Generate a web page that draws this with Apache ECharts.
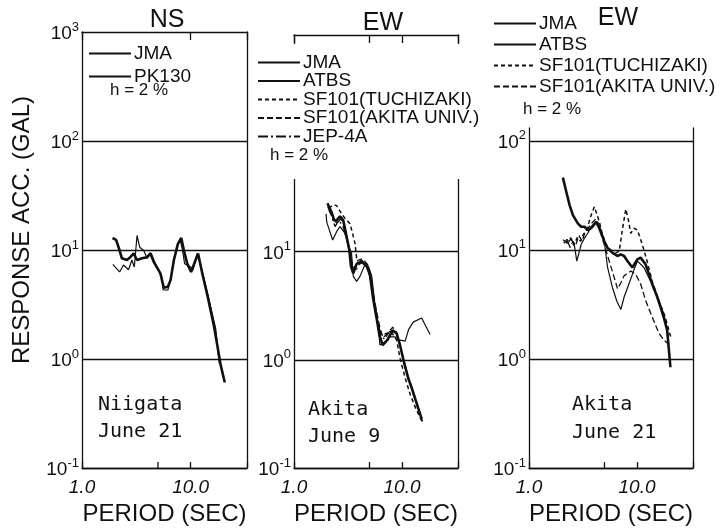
<!DOCTYPE html>
<html>
<head>
<meta charset="utf-8">
<script src="https://cdn.jsdelivr.net/npm/echarts@6/dist/echarts.min.js"></script>
<style>
  html, body { margin: 0; padding: 0; background: #fff; }
  #chart { width: 726px; height: 531px; }
</style>
</head>
<body>
<div id="chart"></div>
<script>
// [period (sec), response acc. (gal)], h = 2 %
const niigataJMA = [[1.91, 12.9], [2.06, 12.4], [2.22, 9.9], [2.33, 8.4], [2.59, 8.1], [2.78, 8.6], [2.99, 9.3], [3.21, 8.1], [3.57, 8.4], [3.97, 8.6], [4.26, 9.3], [4.57, 7.8], [5.27, 6.1], [5.66, 4.5], [6.17, 4.6], [6.53, 5.3], [7.01, 8.1], [7.63, 11.4], [8.2, 12.9], [8.67, 9.9], [9.3, 7.5], [10.1, 6.3], [11.1, 8.1], [11.7, 9.3], [12.8, 6.1], [14.3, 3.8], [16.4, 2.0], [18.9, 0.88], [20.6, 0.61]]
const niigataPK130 = [[1.92, 7.4], [2.22, 6.3], [2.41, 7.3], [2.68, 6.6], [2.88, 8.1], [3.03, 7.0], [3.21, 13.6], [3.4, 10.6], [3.7, 9.9], [3.97, 8.4], [4.32, 9.4], [4.74, 7.5], [5.47, 5.5], [5.58, 4.3], [6.17, 4.3], [6.53, 5.3], [7.26, 9.6], [7.96, 12.6], [8.37, 10.3], [8.8, 7.5], [10.0, 7.0], [10.5, 6.6], [11.5, 9.3], [12.8, 6.3], [14.4, 3.9], [17.0, 1.9], [18.3, 0.91]]

const akita9JMA = [[2.04, 27.9], [2.23, 23.1], [2.35, 19.4], [2.48, 19.4], [2.67, 21.1], [2.86, 19.4], [3.07, 13.7], [3.25, 10.4], [3.37, 7.3], [3.54, 6.3], [3.8, 7.7], [4.23, 8.1], [4.71, 7.3], [5.05, 6.1], [5.42, 3.6], [5.83, 2.4], [6.17, 1.7], [6.62, 1.37], [7.31, 1.52], [8.2, 1.87], [8.93, 1.75], [9.58, 1.37], [10.3, 1.0], [11.4, 0.68], [12.3, 0.55], [15.2, 0.285]]
const akita9ATBS = [[1.98, 22.3], [2.01, 18.7], [2.28, 12.8], [2.52, 15.7], [2.67, 17], [2.97, 14.7], [3.18, 11.5], [3.41, 9.6], [3.54, 5.9], [3.8, 5.3], [4.08, 5.9], [4.54, 7.6], [4.9, 7.3], [5.25, 5.9], [5.62, 3.2], [6.04, 1.94], [6.25, 1.37], [6.96, 1.47], [7.74, 1.63], [8.6, 1.63], [9.58, 1.52], [10.7, 1.49], [11.5, 1.9], [12.7, 2.23], [15.2, 2.43], [18.2, 1.71]]
const akita9Tuchizaki = [[2.1, 25], [2.3, 27], [2.48, 26.6], [2.76, 22.3], [3.0, 20], [3.3, 18.1], [3.5, 14.5], [3.67, 11.9], [3.8, 8.7], [4.1, 8.4], [4.5, 8.0], [4.9, 6.8], [5.2, 5.0], [5.6, 3.2], [6.0, 2.1], [6.5, 1.7], [7.2, 1.75], [8.0, 1.8], [8.93, 1.52], [9.58, 1.04], [10.7, 0.68], [11.9, 0.48], [13.5, 0.35], [15.7, 0.256]]
const akita9AkitaUniv = [[2.1, 24], [2.3, 21], [2.5, 18], [2.7, 20], [2.9, 18], [3.1, 13], [3.3, 10], [3.45, 7.8], [3.6, 7.0], [3.9, 8.3], [4.3, 8.6], [4.8, 7.6], [5.1, 6.0], [5.5, 3.8], [5.9, 2.6], [6.3, 1.9], [6.7, 1.6], [7.3, 1.75], [8.2, 2.0], [8.9, 1.8], [9.5, 1.4], [10.2, 1.05], [11.3, 0.72], [12.3, 0.56], [13.5, 0.42], [15.5, 0.27]]
const akita9JEP4A = [[2.05, 26], [2.2, 22], [2.4, 17], [2.6, 19.5], [2.85, 17], [3.1, 12.5], [3.3, 9.5], [3.5, 7], [3.7, 6.6], [4.0, 7.6], [4.4, 8.0], [4.8, 7.0], [5.2, 5.2], [5.6, 3.3], [6.0, 2.2], [6.4, 1.65], [6.9, 1.55], [7.6, 1.8], [8.4, 1.9], [9.2, 1.6], [9.8, 1.25], [10.6, 0.92], [11.6, 0.64], [12.8, 0.48], [14.5, 0.33], [15.3, 0.29]]

const akita21JMA = [[2.06, 46], [2.22, 33.8], [2.38, 25.6], [2.55, 20.8], [2.83, 17.5], [3.04, 16.3], [3.26, 16.3], [3.5, 15.2], [3.76, 15.8], [4.0, 17], [4.18, 18.1], [4.48, 15.8], [4.98, 12.0], [5.34, 10.4], [5.93, 9.4], [6.59, 8.8], [7.08, 9.1], [7.6, 8.8], [8.15, 7.9], [9.06, 6.9], [10.1, 8.2], [10.8, 8.5], [12.0, 7.4], [12.9, 6.0], [13.8, 4.9], [15.4, 3.7], [16.5, 3.0], [17.7, 2.4], [19.0, 1.85], [20.4, 0.84]]
const akita21ATBS = [[2.06, 12.4], [2.29, 11.5], [2.46, 12.8], [2.64, 10.8], [2.77, 7.9], [3.04, 11.2], [3.26, 12.8], [3.5, 14.2], [3.76, 16.3], [4.03, 17.5], [4.32, 18.1], [4.64, 15.2], [4.98, 12.0], [5.34, 6.9], [5.93, 4.5], [6.5, 3.4], [7.08, 2.84], [7.6, 3.7], [8.43, 4.9], [9.4, 6.6], [10.1, 7.9], [11.6, 6.9], [13.3, 5.2], [15.4, 3.7], [17.7, 2.6], [19.5, 1.6]]
const akita21Tuchizaki = [[2.2, 11.5], [2.4, 13], [2.6, 11], [2.8, 13], [3.0, 12], [3.2, 14], [3.38, 14.7], [3.6, 18], [3.76, 20.8], [4.03, 24.8], [4.2, 22], [4.48, 18.1], [4.8, 13.7], [5.16, 11.2], [5.6, 10.2], [5.93, 9.7], [6.35, 9.4], [6.84, 9.7], [7.3, 15], [7.87, 23.6], [8.3, 19], [8.75, 14.2], [9.4, 15.8], [10.1, 15.2], [10.4, 14.7], [11.2, 11.2], [12.4, 7.9], [13.8, 5.2], [15.9, 3.45], [18.3, 2.4], [20.5, 1.6]]
const akita21AkitaUniv = [[2.1, 11.5], [2.25, 12.5], [2.4, 10.5], [2.55, 12], [2.7, 11], [2.9, 13.5], [3.1, 12], [3.3, 14.5], [3.55, 16], [3.8, 17.5], [4.1, 19], [4.35, 17], [4.6, 14.5], [4.98, 11.1], [5.53, 7.9], [6.15, 5.6], [6.6, 4.4], [7.1, 5.0], [7.6, 5.8], [8.75, 6.4], [9.7, 6.0], [10.8, 4.9], [12, 3.45], [13.8, 2.44], [15.9, 1.73], [17.7, 1.5], [19.8, 1.35]]

const periodTicks = [5]
const periodMin = 1
const periodMax = 33
const accMin = 0.1

const FONT = '"Liberation Sans", Arial, sans-serif'
const MONO = '"DejaVu Sans Mono", "Liberation Mono", monospace'
const INK = '#111'

const panels = [
  { grid: { left: 82, top: 32, width: 165, height: 444 }, accMax: 1000, hideExp: [], top: true, topFive: false },
  { grid: { left: 294, top: 35, width: 164, height: 440 }, accMax: 1000, hideExp: [2, 3], top: true, topFive: true },
  { grid: { left: 529, top: 128, width: 164, height: 344 }, accMax: 131, hideExp: [], top: false, topFive: false },
]

const lineStyles = {
  'JMA': { width: 2.6, type: 'solid' },
  'PK130': { width: 1.2, type: 'solid' },
  'ATBS': { width: 1.2, type: 'solid' },
  'SF101(TUCHIZAKI)': { width: 1.5, type: [4, 3] },
  'SF101(AKITA UNIV.)': { width: 1.3, type: [6, 3] },
  'JEP-4A': { width: 1.3, type: [10, 3, 2, 3] },
}

const curves = [
  [0, 'JMA', niigataJMA],
  [0, 'PK130', niigataPK130],
  [1, 'JMA', akita9JMA],
  [1, 'ATBS', akita9ATBS],
  [1, 'SF101(TUCHIZAKI)', akita9Tuchizaki],
  [1, 'SF101(AKITA UNIV.)', akita9AkitaUniv],
  [1, 'JEP-4A', akita9JEP4A],
  [2, 'JMA', akita21JMA],
  [2, 'ATBS', akita21ATBS],
  [2, 'SF101(TUCHIZAKI)', akita21Tuchizaki],
  [2, 'SF101(AKITA UNIV.)', akita21AkitaUniv],
]

function yLabel(hidden) {
  return function (v) {
    const lg = Math.log10(v)
    const e = Math.round(lg)
    if (Math.abs(lg - e) > 0.01 || hidden.indexOf(e) >= 0) return ''
    return '{b|10}{s|' + e + '}'
  }
}
function xLabel(v) {
  if (Math.abs(v - 1) < 1e-6) return '1.0'
  if (Math.abs(v - 10) < 1e-6) return '10.0'
  return ''
}

const frame = { show: true, lineStyle: { color: INK, width: 1.3 } }
const xAxis = []
const yAxis = []
const series = []

panels.forEach((p, i) => {
  xAxis.push({
    type: 'log', gridIndex: i, min: periodMin, max: periodMax, position: 'bottom',
    axisLine: frame,
    axisTick: { show: true, inside: true, length: 6, lineStyle: { color: INK, width: 1.3 } },
    axisLabel: { formatter: xLabel, margin: 10, color: INK, fontFamily: FONT, fontSize: 19, fontStyle: 'italic' },
    splitLine: { show: false },
    name: 'PERIOD (SEC)', nameLocation: 'middle', nameGap: 26,
    nameTextStyle: { color: INK, fontFamily: FONT, fontSize: 24 },
  })
  xAxis.push({
    type: 'log', gridIndex: i, min: periodMin, max: periodMax, position: 'top', show: p.top,
    axisLine: frame,
    axisTick: { show: true, inside: true, length: 8, lineStyle: { color: INK, width: 1.3 } },
    axisLabel: { show: false },
    splitLine: { show: false },
  })
  yAxis.push({
    type: 'log', gridIndex: i, min: accMin, max: p.accMax, position: 'left',
    axisLine: frame,
    axisTick: { show: false },
    axisLabel: {
      formatter: yLabel(p.hideExp), margin: 3,
      rich: {
        b: { fontFamily: FONT, fontSize: 19, color: INK, lineHeight: 23, verticalAlign: 'bottom' },
        s: { fontFamily: FONT, fontSize: 13, color: INK, verticalAlign: 'top' },
      },
    },
    splitLine: { show: true, showMaxLine: false, lineStyle: { color: INK, width: 1.3 } },
  })
  yAxis.push({
    type: 'log', gridIndex: i, min: accMin, max: p.accMax, position: 'right',
    axisLine: frame, axisTick: { show: false }, axisLabel: { show: false }, splitLine: { show: false },
  })

  // tick marks at 5 sec that a log axis does not give
  series.push({
    type: 'custom', xAxisIndex: 2 * i, yAxisIndex: 2 * i, silent: true, z: 3,
    data: periodTicks.map((t) => [t, accMin]),
    renderItem: function (params, api) {
      const b = api.coord([api.value(0), accMin])
      const t = api.coord([api.value(0), p.accMax])
      const st = { stroke: INK, lineWidth: 1.3 }
      const children = [{ type: 'line', shape: { x1: b[0], y1: b[1], x2: b[0], y2: b[1] - 6 }, style: st }]
      if (p.topFive) children.push({ type: 'line', shape: { x1: t[0], y1: t[1], x2: t[0], y2: t[1] + 8 }, style: st })
      return { type: 'group', children: children }
    },
  })
})

curves.forEach(([i, name, data]) => {
  series.push({
    type: 'line', name: name, xAxisIndex: 2 * i, yAxisIndex: 2 * i,
    data: data, symbol: 'none', smooth: false,
    lineStyle: { color: INK, width: lineStyles[name].width, type: lineStyles[name].type },
    itemStyle: { color: INK },
  })
})

const legendBase = {
  orient: 'vertical', selectedMode: false, itemWidth: 42, itemHeight: 14,
  itemStyle: { opacity: 0, borderWidth: 0 },
  textStyle: { color: INK, fontFamily: FONT, fontSize: 19, padding: [0, 0, 0, -2] },
}

function txt(text, x, y, size, family, align, extra) {
  return Object.assign({
    type: 'text', x: x, y: y, z: 100,
    style: { text: text, font: size + 'px ' + family, fill: INK, align: align, verticalAlign: 'middle', textAlign: align, textVerticalAlign: 'middle' },
  }, extra || {})
}

const option = {
  animation: false,
  backgroundColor: '#fff',
  grid: panels.map((p) => Object.assign({ show: false }, p.grid)),
  xAxis: xAxis,
  yAxis: yAxis,
  legend: [
    Object.assign({}, legendBase, { left: 88, top: 44, padding: 0, itemGap: 4, data: ['JMA', 'PK130'] }),
    Object.assign({}, legendBase, {
      left: 250, top: 44, padding: [9, 14, 33, 7], itemGap: -0.5, backgroundColor: '#fff',
      data: ['JMA', 'ATBS', 'SF101(TUCHIZAKI)', 'SF101(AKITA UNIV.)', 'JEP-4A'],
    }),
    Object.assign({}, legendBase, { left: 493, top: 14, padding: 0, itemGap: 2, data: ['JMA', 'ATBS', 'SF101(TUCHIZAKI)', 'SF101(AKITA UNIV.)'] }),
  ],
  graphic: [
    txt('NS', 167, 20, 25, FONT, 'center'),
    txt('EW', 383, 23, 25, FONT, 'center'),
    txt('EW', 618, 18, 25, FONT, 'center'),
    txt('h = 2 %', 110, 90, 17, FONT, 'left'),
    txt('h = 2 %', 270, 155, 17, FONT, 'left'),
    txt('h = 2 %', 523, 109, 17, FONT, 'left'),
    txt('Niigata', 98, 405, 20, MONO, 'left'),
    txt('June 21', 98, 432, 20, MONO, 'left'),
    txt('Akita', 308, 410, 20, MONO, 'left'),
    txt('June 9', 308, 437, 20, MONO, 'left'),
    txt('Akita', 572, 405, 20, MONO, 'left'),
    txt('June 21', 572, 433, 20, MONO, 'left'),
    txt('RESPONSE ACC. (GAL)', 22, 230, 24, FONT, 'center', { rotation: Math.PI / 2 }),
  ],
  series: series,
}

const chart = echarts.init(document.getElementById('chart'))
chart.setOption(option)
</script>
</body>
</html>
